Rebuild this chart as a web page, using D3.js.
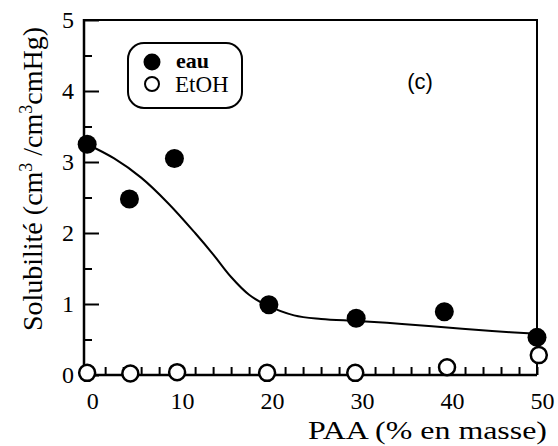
<!DOCTYPE html>
<html><head><meta charset="utf-8">
<script src="https://cdn.jsdelivr.net/npm/d3@7"></script>
<style>
html,body{margin:0;padding:0;background:#fff;}
svg{display:block;}
</style></head>
<body>
<script>
// ---- data ----
const eauX = [0, 4.7, 9.7, 20.2, 29.9, 39.7, 50];
const eauY = [3.25, 2.48, 3.05, 0.99, 0.80, 0.89, 0.53];
const etohX = [0, 4.8, 10, 20, 29.8, 40, 50.2];
const etohY = [0.03, 0.02, 0.04, 0.03, 0.03, 0.11, 0.28];
const fitX = [0, 3, 6, 9, 12, 14, 16, 18, 20, 23, 26, 30, 35, 40, 45, 50];
const fitY = [3.25, 3.05, 2.78, 2.42, 2.0, 1.7, 1.38, 1.13, 0.98, 0.84, 0.79, 0.76, 0.72, 0.67, 0.62, 0.58];
const xTicks = [0, 10, 20, 30, 40, 50];
const xMinor = [2,4,6,8,12,14,16,18,22,24,26,28,32,34,36,38,42,44,46,48];
const yTicks = [0, 1, 2, 3, 4, 5];
const yMinor = [0.5, 1.5, 2.5, 3.5, 4.5];
const legendLabels = ["eau", "EtOH"];
const xTitle = "PAA (% en masse)";
const panelLabel = "(c)";

const W = 558, H = 446;
const L = 84, R = 537, T = 20, B = 375;
const serif = "Liberation Serif";

const svg = d3.select("body").append("svg").attr("width", W).attr("height", H);
const x = d3.scaleLinear().domain([-0.35, 50]).range([L, R]);
const y = d3.scaleLinear().domain([0, 5]).range([B, T]);

// y axis: inward ticks + labels
const yAx = svg.append("g").attr("transform", `translate(${L},0)`)
  .call(d3.axisLeft(y).tickValues(yTicks).tickSizeInner(-15).tickSizeOuter(0).tickPadding(10).tickFormat(d3.format("d")));
const yAxMin = svg.append("g").attr("transform", `translate(${L},0)`)
  .call(d3.axisLeft(y).tickValues(yMinor).tickSizeInner(-8).tickSizeOuter(0).tickFormat(""));
// x axis
const xAx = svg.append("g").attr("transform", `translate(0,${B})`)
  .call(d3.axisBottom(x).tickValues(xTicks).tickSizeInner(-8).tickSizeOuter(0).tickPadding(17).tickFormat(d3.format("d")));
const xAxMin = svg.append("g").attr("transform", `translate(0,${B})`)
  .call(d3.axisBottom(x).tickValues(xMinor).tickSizeInner(-8).tickSizeOuter(0).tickFormat(""));

[yAx, yAxMin, xAx, xAxMin].forEach(g => {
  g.attr("font-family", serif).attr("font-size", 24);
  g.select(".domain").remove();
  g.selectAll("line").attr("stroke", "#000").attr("stroke-width", 2);
  g.selectAll("text").attr("fill", "#000");
});
xAx.selectAll("text").attr("dx", 5);

// frame
const frame = svg.append("g").attr("stroke", "#000").attr("fill", "none");
frame.append("line").attr("x1", L).attr("x2", L).attr("y1", T - 1).attr("y2", B + 1).attr("stroke-width", 2.5);
frame.append("line").attr("x1", L).attr("x2", R).attr("y1", B).attr("y2", B).attr("stroke-width", 2.5);
frame.append("line").attr("x1", L).attr("x2", R + 1).attr("y1", T).attr("y2", T).attr("stroke-width", 2);
frame.append("line").attr("x1", R).attr("x2", R).attr("y1", T).attr("y2", B).attr("stroke-width", 2);

// fit curve
const line = d3.line().x(d => x(d[0])).y(d => y(d[1])).curve(d3.curveCatmullRom);
svg.append("path").datum(fitX.map((v, i) => [v, fitY[i]]))
  .attr("d", line).attr("fill", "none").attr("stroke", "#000").attr("stroke-width", 2);

// points
svg.append("g").selectAll("circle").data(eauX.map((v, i) => [v, eauY[i]])).join("circle")
  .attr("cx", d => x(d[0])).attr("cy", d => y(d[1])).attr("r", 9.5).attr("fill", "#000");
svg.append("g").selectAll("circle").data(etohX.map((v, i) => [v, etohY[i]])).join("circle")
  .attr("cx", d => x(d[0])).attr("cy", d => y(d[1])).attr("r", 8).attr("fill", "#fff")
  .attr("stroke", "#000").attr("stroke-width", 2.5);

// legend
const lg = svg.append("g");
lg.append("rect").attr("x", 128).attr("y", 43).attr("width", 114).attr("height", 65)
  .attr("rx", 16).attr("ry", 16).attr("fill", "none").attr("stroke", "#000").attr("stroke-width", 2);
lg.append("circle").attr("cx", 152).attr("cy", 62).attr("r", 8.5).attr("fill", "#000");
lg.append("circle").attr("cx", 152).attr("cy", 84).attr("r", 7).attr("fill", "#fff").attr("stroke", "#000").attr("stroke-width", 2);
lg.append("text").attr("x", 176).attr("y", 68).text(legendLabels[0])
  .attr("font-family", serif).attr("font-size", 22).attr("font-weight", "bold");
lg.append("text").attr("x", 175).attr("y", 92).text(legendLabels[1])
  .attr("font-family", serif).attr("font-size", 23);

// panel label
svg.append("text").attr("x", 420).attr("y", 89).attr("text-anchor", "middle").text(panelLabel)
  .attr("font-family", "Liberation Sans").attr("font-size", 22);

// axis titles
svg.append("text").attr("x", 308).attr("y", 439).text(xTitle)
  .attr("font-family", serif).attr("font-size", 26)
  .attr("textLength", 239).attr("lengthAdjust", "spacingAndGlyphs");
const yt = svg.append("text").attr("transform", "translate(42,179) rotate(-90)").attr("text-anchor", "middle")
  .attr("font-family", serif).attr("font-size", 28);
yt.append("tspan").text("Solubilité (cm");
yt.append("tspan").text("3").attr("dy", -10).attr("font-size", 18);
yt.append("tspan").text(" /cm").attr("dy", 10);
yt.append("tspan").text("3").attr("dy", -10).attr("font-size", 18);
yt.append("tspan").text("cmHg)").attr("dy", 10);
</script>
</body></html>
